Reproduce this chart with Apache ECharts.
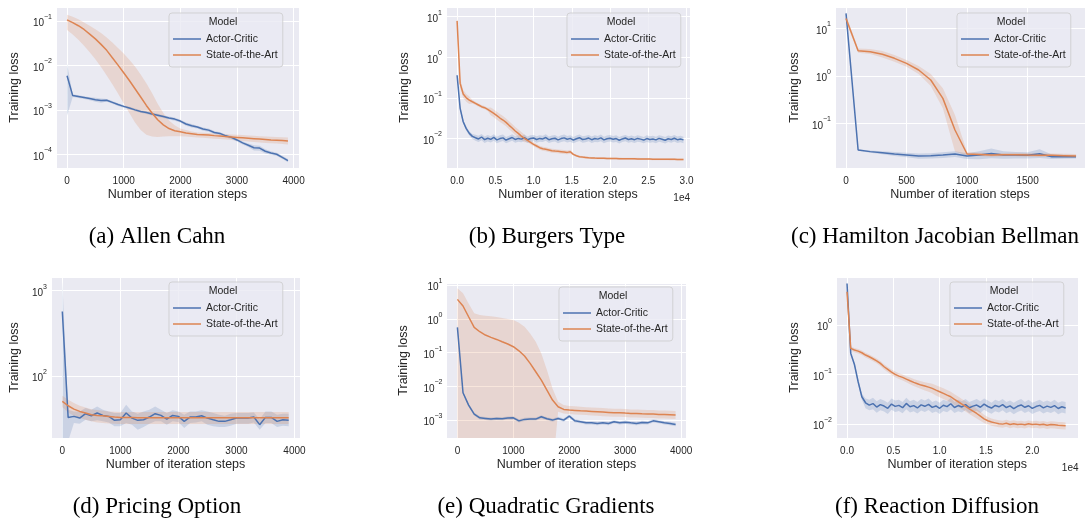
<!DOCTYPE html>
<html>
<head>
<meta charset="utf-8">
<script src="https://cdn.jsdelivr.net/npm/echarts@6/dist/echarts.min.js"></script>
<style>
  html, body { margin: 0; padding: 0; background: #fff; }
  #chart { width: 1091px; height: 520px; }
</style>
</head>
<body>
<div id="chart"></div>
<script>
// x positions (iteration steps) for each panel
function steps(start, step, n) {
	var a = [];
	for (var i = 0; i < n; i++) a.push(start + i * step);
	return a;
}
var seriesNames = ['Actor-Critic', 'State-of-the-Art'];

// (a) Allen Cahn
var allenX = steps(0, 100, 40);
var allenAcMean = [5.9e-3,2.1e-3,2.0e-3,1.9e-3,1.8e-3,1.7e-3,1.63e-3,1.65e-3,1.48e-3,1.32e-3,1.2e-3,1.1e-3,1.0e-3,9.2e-4,8.7e-4,8.1e-4,7.6e-4,7.1e-4,6.6e-4,6.2e-4,5.6e-4,4.8e-4,4.4e-4,4.1e-4,3.7e-4,3.5e-4,3.1e-4,2.95e-4,2.6e-4,2.4e-4,2.1e-4,1.8e-4,1.6e-4,1.4e-4,1.38e-4,1.17e-4,1.07e-4,1.0e-4,8.5e-5,7.2e-5];
var allenAcLo = [7.4e-4,1.95e-3,1.86e-3,1.77e-3,1.66e-3,1.52e-3,1.45e-3,1.55e-3,1.38e-3,1.23e-3,1.12e-3,1.03e-3,9.3e-4,8.6e-4,8.1e-4,7.5e-4,7.0e-4,6.6e-4,6.1e-4,5.7e-4,5.2e-4,4.4e-4,4.0e-4,3.8e-4,3.4e-4,3.2e-4,2.85e-4,2.75e-4,2.4e-4,2.2e-4,1.95e-4,1.65e-4,1.45e-4,1.22e-4,1.2e-4,1.04e-4,9.7e-5,9.2e-5,7.8e-5,6.6e-5];
var allenAcHi = [1.1e-2,2.25e-3,2.14e-3,2.03e-3,1.94e-3,1.88e-3,1.8e-3,1.75e-3,1.58e-3,1.41e-3,1.28e-3,1.18e-3,1.07e-3,9.8e-4,9.3e-4,8.7e-4,8.2e-4,7.6e-4,7.1e-4,6.7e-4,6.0e-4,5.2e-4,4.8e-4,4.4e-4,4.0e-4,3.8e-4,3.35e-4,3.15e-4,2.8e-4,2.6e-4,2.25e-4,1.95e-4,1.75e-4,1.6e-4,1.55e-4,1.3e-4,1.17e-4,1.08e-4,9.2e-5,7.8e-5];
var allenSotaMean = [0.107,0.093,0.079,0.065,0.051,0.040,0.030,0.022,0.015,0.0102,6.9e-3,4.6e-3,3.0e-3,1.95e-3,1.26e-3,8.5e-4,6.0e-4,4.6e-4,3.8e-4,3.4e-4,3.2e-4,3.0e-4,2.9e-4,2.8e-4,2.75e-4,2.7e-4,2.63e-4,2.57e-4,2.5e-4,2.45e-4,2.4e-4,2.35e-4,2.3e-4,2.25e-4,2.2e-4,2.15e-4,2.1e-4,2.08e-4,2.04e-4,2.0e-4];
var allenSotaLo = [0.063,0.05,0.038,0.028,0.02,0.0138,9.3e-3,6.0e-3,3.8e-3,2.35e-3,1.4e-3,8.5e-4,5.2e-4,3.5e-4,2.75e-4,2.5e-4,2.45e-4,2.5e-4,2.55e-4,2.55e-4,2.55e-4,2.5e-4,2.45e-4,2.4e-4,2.35e-4,2.3e-4,2.25e-4,2.2e-4,2.15e-4,2.1e-4,2.05e-4,2.0e-4,1.95e-4,1.9e-4,1.85e-4,1.8e-4,1.77e-4,1.74e-4,1.7e-4,1.66e-4];
var allenSotaHi = [0.14,0.126,0.11,0.093,0.079,0.066,0.054,0.043,0.033,0.025,0.0186,0.0135,9.5e-3,6.3e-3,4.0e-3,2.4e-3,1.38e-3,8.5e-4,5.8e-4,4.5e-4,3.8e-4,3.5e-4,3.25e-4,3.1e-4,3.05e-4,3.0e-4,2.95e-4,2.9e-4,2.85e-4,2.8e-4,2.75e-4,2.7e-4,2.65e-4,2.6e-4,2.55e-4,2.5e-4,2.47e-4,2.45e-4,2.42e-4,2.4e-4];

// (b) Burgers Type
var burgersX = steps(0, 400, 75);
var burgersAcMean = [0.36,0.055,0.0257,0.0174,0.0133,0.0112,0.0104,0.0097,0.0108,0.0093,0.0101,0.0095,0.0106,0.0092,0.0099,0.0103,0.0091,0.0098,0.0105,0.0094,0.01,0.0096,0.0104,0.0093,0.0099,0.0102,0.0094,0.01,0.0097,0.0105,0.0093,0.0098,0.0101,0.0092,0.0099,0.0103,0.0095,0.01,0.0091,0.0098,0.0104,0.0094,0.0097,0.0102,0.0093,0.0099,0.0096,0.0103,0.0092,0.0098,0.0101,0.0095,0.0099,0.009,0.0097,0.0102,0.0094,0.0098,0.0093,0.01,0.0096,0.0091,0.0099,0.0094,0.0097,0.0092,0.01,0.0095,0.009,0.0098,0.0094,0.0101,0.0093,0.0097,0.0092];
var burgersAcLo = [0.30,0.048,0.0228,0.0155,0.0117,0.0097,0.0087,0.0081,0.009,0.0077,0.0084,0.0079,0.0088,0.0076,0.0082,0.0086,0.0076,0.0081,0.0087,0.0078,0.0083,0.008,0.0086,0.0077,0.0082,0.0085,0.0078,0.0083,0.0081,0.0087,0.0077,0.0081,0.0084,0.0076,0.0082,0.0085,0.0079,0.0083,0.0076,0.0081,0.0086,0.0078,0.008,0.0085,0.0077,0.0082,0.008,0.0085,0.0076,0.0081,0.0084,0.0079,0.0082,0.0075,0.0081,0.0085,0.0078,0.0081,0.0077,0.0083,0.008,0.0076,0.0082,0.0078,0.008,0.0076,0.0083,0.0079,0.0075,0.0081,0.0078,0.0084,0.0077,0.008,0.0076];
var burgersAcHi = [0.42,0.063,0.029,0.0195,0.015,0.0128,0.0123,0.0116,0.0129,0.0112,0.0122,0.0113,0.0127,0.011,0.0119,0.0124,0.0109,0.0117,0.0126,0.0113,0.012,0.0115,0.0125,0.0111,0.0119,0.0122,0.0113,0.012,0.0116,0.0126,0.0112,0.0118,0.0121,0.011,0.0119,0.0124,0.0114,0.012,0.0109,0.0118,0.0125,0.0113,0.0116,0.0122,0.0112,0.0119,0.0115,0.0124,0.011,0.0118,0.0121,0.0114,0.0119,0.0108,0.0116,0.0122,0.0113,0.0118,0.0112,0.012,0.0115,0.0109,0.0119,0.0113,0.0116,0.011,0.012,0.0114,0.0108,0.0118,0.0113,0.0121,0.0112,0.0116,0.011];
var burgersSotaMean = [7.9,0.227,0.124,0.1,0.088,0.08,0.073,0.0665,0.0605,0.0572,0.052,0.0464,0.0414,0.0363,0.0318,0.0284,0.0248,0.021,0.018,0.0152,0.0133,0.0114,0.01,0.00895,0.00798,0.00713,0.00649,0.0059,0.00557,0.00537,0.00517,0.00498,0.00488,0.00479,0.0047,0.00461,0.00452,0.0047,0.00404,0.00374,0.00354,0.00346,0.0034,0.00333,0.0033,0.00327,0.00325,0.00323,0.00322,0.0032,0.0032,0.00319,0.00318,0.00317,0.00316,0.00316,0.00315,0.00314,0.00313,0.00312,0.0031,0.0031,0.00309,0.00309,0.00308,0.00308,0.00307,0.00306,0.00306,0.00305,0.00304,0.00304,0.00303,0.00303,0.00302];
var burgersSotaLo = [4.7,0.175,0.099,0.08,0.07,0.0727,0.0664,0.0605,0.055,0.052,0.0473,0.0371,0.0331,0.029,0.0254,0.0227,0.0198,0.0168,0.0144,0.0122,0.0106,0.0091,0.008,0.008,0.00713,0.00637,0.0058,0.00527,0.00497,0.00479,0.00462,0.00445,0.00436,0.00428,0.0042,0.00412,0.00404,0.0042,0.00381,0.00353,0.00334,0.00326,0.00321,0.00314,0.00311,0.00308,0.00307,0.00305,0.00304,0.00302,0.00302,0.00301,0.003,0.00299,0.00298,0.00298,0.00297,0.00296,0.00295,0.00294,0.00292,0.00292,0.00292,0.00292,0.00291,0.00291,0.0029,0.00289,0.00289,0.00288,0.00287,0.00287,0.00286,0.00286,0.00285];
var burgersSotaHi = [11,0.295,0.155,0.125,0.108,0.088,0.08,0.073,0.0666,0.063,0.0572,0.058,0.0518,0.0454,0.0398,0.0355,0.031,0.0263,0.0225,0.019,0.0166,0.0143,0.0125,0.01,0.00894,0.00799,0.00727,0.00661,0.00624,0.00601,0.00579,0.00558,0.00547,0.00536,0.00526,0.00516,0.00506,0.00526,0.00428,0.00396,0.00375,0.00367,0.0036,0.00353,0.0035,0.00347,0.00345,0.00342,0.00341,0.00339,0.00339,0.00338,0.00337,0.00336,0.00335,0.00335,0.00334,0.00333,0.00332,0.00331,0.00329,0.00329,0.00328,0.00328,0.00326,0.00326,0.00325,0.00324,0.00324,0.00323,0.00322,0.00322,0.00321,0.00321,0.0032];

// (c) Hamilton Jacobian Bellman
var hjbX = steps(0, 100, 20);
var hjbAcMean = [20.7,0.0275,0.0254,0.0241,0.0226,0.0215,0.0205,0.0208,0.0215,0.0226,0.0205,0.0215,0.0233,0.0215,0.0215,0.0212,0.023,0.0199,0.0199,0.0199];
var hjbAcLo = [18.5,0.0265,0.024,0.0224,0.0206,0.0193,0.018,0.0182,0.0187,0.0196,0.0178,0.0175,0.0185,0.018,0.0183,0.0182,0.0186,0.0178,0.018,0.0183];
var hjbAcHi = [22.5,0.0285,0.0268,0.026,0.0248,0.024,0.0232,0.0235,0.0245,0.0258,0.0235,0.026,0.0295,0.026,0.025,0.0245,0.0285,0.022,0.0218,0.0215];
var hjbSotaMean = [16.2,3.39,3.23,2.84,2.34,1.83,1.33,0.817,0.336,0.0724,0.0226,0.0222,0.0215,0.0219,0.0219,0.0215,0.0212,0.0212,0.0209,0.0205];
var hjbSotaLo = [13.8,3.08,2.88,2.45,1.99,1.56,1.09,0.611,0.207,0.0254,0.0208,0.0205,0.0199,0.0202,0.0202,0.0199,0.0196,0.0196,0.0193,0.019];
var hjbSotaHi = [19.1,3.79,3.67,3.33,2.75,2.15,1.61,1.09,0.546,0.15,0.0245,0.0241,0.0237,0.0237,0.0241,0.0237,0.0233,0.0233,0.023,0.0226];

// (d) Pricing Option
var pricingX = steps(0, 100, 40);
var pricingAcMean = [568,32.5,33.4,31.9,35.9,34.0,36.6,34.3,33.4,30.0,30.5,36.6,31.9,30.0,30.5,32.8,35.9,34.3,31.0,34.3,33.4,29.2,32.8,32.8,34.0,31.9,30.5,29.2,29.2,30.5,31.9,31.9,31.9,32.8,26.7,32.5,32.5,29.2,30.5,30.0];
var pricingAcLo = [1,17,27.9,27.4,30.5,29.2,30.0,29.2,28.4,25.5,25.5,27.9,26.7,23.3,25.0,27.4,29.2,29.2,26.7,29.2,28.6,24.4,27.9,28.4,29.2,26.7,25.5,25.0,25.0,26.0,27.4,27.4,27.4,28.4,23.3,27.9,27.9,25.0,26.0,25.5];
var pricingAcHi = [1275,40.0,38.2,38.2,41.8,40.0,43.7,40.0,38.2,36.6,36.6,45.7,38.2,35.9,38.2,40.0,43.7,40.0,36.6,39.3,38.2,34.9,38.2,38.2,39.3,38.2,36.6,34.9,34.0,35.9,36.6,36.6,36.6,37.2,31.0,38.2,38.2,34.9,35.9,35.9];
var pricingSotaMean = [50.0,44.5,40.6,38.2,36.6,34.9,34.3,34.0,33.4,32.8,32.5,32.5,32.5,32.2,32.2,32.2,32.2,32.2,32.2,32.2,32.2,32.2,32.2,32.2,32.2,32.2,32.2,32.2,32.2,32.2,32.2,32.2,32.2,32.2,32.2,32.2,32.2,32.2,32.2,32.2];
var pricingSotaLo = [42.9,37.2,34.0,31.9,30.5,29.2,28.4,27.9,27.6,27.4,27.2,27.2,27.2,27.2,27.2,27.2,27.2,27.2,27.2,27.2,27.2,27.2,27.2,27.2,27.2,27.2,27.2,27.2,27.2,27.2,27.2,27.2,27.2,27.2,27.2,27.2,27.2,27.2,27.2,27.2];
var pricingSotaHi = [58.3,52.4,47.9,44.5,42.5,40.6,39.6,38.9,38.2,37.9,37.5,37.5,37.5,37.5,37.5,37.5,37.5,37.5,37.5,37.5,37.5,37.5,37.5,37.5,37.5,37.5,37.5,37.5,37.5,37.5,37.5,37.5,37.5,37.5,37.5,37.5,37.5,37.5,37.5,37.5];

// (e) Quadratic Gradients
var quadX = steps(0, 100, 40);
var quadAcMean = [0.557,6.46e-3,2.78e-3,1.51e-3,1.17e-3,1.12e-3,1.07e-3,1.12e-3,1.1e-3,1.15e-3,1.17e-3,9.5e-4,1.05e-3,1.07e-3,1.07e-3,1.26e-3,1.1e-3,1.0e-3,1.12e-3,1.0e-3,1.31e-3,9.5e-4,8.9e-4,8.3e-4,8.3e-4,7.96e-4,8.3e-4,7.96e-4,8.9e-4,8.3e-4,8.7e-4,8.3e-4,7.96e-4,8.5e-4,8.3e-4,9.5e-4,8.9e-4,8.3e-4,7.96e-4,7.4e-4];
var quadAcLo = [0.44,5.8e-3,2.5e-3,1.36e-3,1.05e-3,1.0e-3,9.6e-4,1.0e-3,9.9e-4,1.03e-3,1.05e-3,8.5e-4,9.4e-4,9.6e-4,9.6e-4,1.12e-3,9.9e-4,9.0e-4,1.0e-3,9.0e-4,1.17e-3,8.5e-4,8.0e-4,7.4e-4,7.4e-4,7.1e-4,7.4e-4,7.1e-4,8.0e-4,7.4e-4,7.8e-4,7.4e-4,7.1e-4,7.6e-4,7.4e-4,8.5e-4,8.0e-4,7.4e-4,7.1e-4,6.6e-4];
var quadAcHi = [0.7,7.2e-3,3.1e-3,1.68e-3,1.3e-3,1.24e-3,1.19e-3,1.24e-3,1.22e-3,1.28e-3,1.3e-3,1.06e-3,1.17e-3,1.19e-3,1.19e-3,1.4e-3,1.22e-3,1.11e-3,1.25e-3,1.11e-3,1.46e-3,1.06e-3,9.9e-4,9.3e-4,9.3e-4,8.9e-4,9.3e-4,8.9e-4,9.9e-4,9.3e-4,9.7e-4,9.3e-4,8.9e-4,9.5e-4,9.3e-4,1.06e-3,9.9e-4,9.3e-4,8.9e-4,8.3e-4];
var quadSotaMean = [3.76,2.39,1.15,0.557,0.414,0.33,0.281,0.245,0.209,0.179,0.149,0.113,0.0787,0.0477,0.027,0.0153,7.74e-3,3.92e-3,2.48e-3,2.07e-3,1.98e-3,1.94e-3,1.89e-3,1.85e-3,1.81e-3,1.77e-3,1.73e-3,1.69e-3,1.65e-3,1.65e-3,1.61e-3,1.58e-3,1.58e-3,1.54e-3,1.51e-3,1.51e-3,1.47e-3,1.47e-3,1.44e-3,1.41e-3];
var quadSotaLo = [1e-6,1e-6,1e-6,1e-6,1e-6,1e-6,1e-6,1e-6,1e-6,1e-6,1e-6,1e-6,1e-6,1e-6,1e-6,1e-6,1e-6,3e-5,1.77e-3,1.58e-3,1.51e-3,1.47e-3,1.44e-3,1.41e-3,1.37e-3,1.34e-3,1.31e-3,1.28e-3,1.26e-3,1.26e-3,1.23e-3,1.2e-3,1.2e-3,1.17e-3,1.15e-3,1.15e-3,1.12e-3,1.12e-3,1.1e-3,1.07e-3];
var quadSotaHi = [7.96,5.66,2.86,1.45,1.29,1.23,1.18,1.13,1.05,0.98,0.918,0.766,0.582,0.37,0.209,0.0944,0.0303,8.67e-3,3.49e-3,2.78e-3,2.6e-3,2.55e-3,2.48e-3,2.42e-3,2.37e-3,2.32e-3,2.27e-3,2.22e-3,2.17e-3,2.17e-3,2.12e-3,2.07e-3,2.07e-3,2.02e-3,1.98e-3,1.98e-3,1.94e-3,1.94e-3,1.89e-3,1.85e-3];

// (f) Reaction Diffusion
var reactX = steps(0, 400, 60);
var reactAcMean = [6.9,0.268,0.16,0.0717,0.0357,0.027,0.0242,0.026,0.0221,0.0248,0.0232,0.0209,0.0254,0.0228,0.0239,0.0215,0.0262,0.0224,0.0236,0.0212,0.0245,0.0229,0.0251,0.0218,0.0233,0.0209,0.0241,0.0226,0.0258,0.0217,0.0237,0.0222,0.0249,0.0214,0.0231,0.0243,0.0219,0.0253,0.0227,0.0211,0.0238,0.0224,0.0247,0.0216,0.0233,0.0205,0.0229,0.0244,0.0219,0.0235,0.0208,0.0226,0.0239,0.0213,0.0231,0.0218,0.0236,0.0207,0.0224,0.0212];
var reactAcLo = [6.2,0.24,0.145,0.064,0.031,0.021,0.019,0.02,0.017,0.019,0.018,0.016,0.0195,0.0175,0.0184,0.0165,0.02,0.0172,0.0182,0.0163,0.0188,0.0176,0.0193,0.0168,0.0179,0.0161,0.0185,0.0174,0.0198,0.0167,0.0182,0.0171,0.0192,0.0165,0.0178,0.0187,0.0168,0.0195,0.0175,0.0162,0.0183,0.0172,0.019,0.0166,0.0179,0.0158,0.0176,0.0188,0.0168,0.0181,0.016,0.0174,0.0184,0.0164,0.0178,0.0168,0.0182,0.0159,0.0172,0.0163];
var reactAcHi = [7.6,0.3,0.18,0.08,0.041,0.033,0.031,0.034,0.029,0.032,0.030,0.027,0.033,0.030,0.031,0.028,0.034,0.029,0.031,0.028,0.032,0.030,0.033,0.028,0.030,0.027,0.031,0.029,0.034,0.028,0.031,0.029,0.032,0.028,0.030,0.032,0.029,0.033,0.030,0.027,0.031,0.029,0.032,0.028,0.030,0.027,0.030,0.032,0.028,0.031,0.027,0.029,0.031,0.028,0.030,0.028,0.031,0.027,0.029,0.028];
var reactSotaMean = [4.7,0.338,0.313,0.298,0.276,0.248,0.229,0.209,0.19,0.168,0.144,0.127,0.112,0.101,0.0933,0.0877,0.0811,0.075,0.0695,0.0653,0.0614,0.0586,0.0559,0.0526,0.0486,0.045,0.0417,0.0385,0.0357,0.0315,0.0283,0.0254,0.0228,0.0204,0.0183,0.0164,0.0145,0.0128,0.0117,0.011,0.0106,0.0102,0.01,0.0104,0.0098,0.0102,0.0098,0.01,0.0097,0.0102,0.0098,0.01,0.0097,0.0099,0.0095,0.0098,0.0097,0.0095,0.0094,0.0093];
var reactSotaLo = [4.1,0.305,0.283,0.268,0.248,0.222,0.204,0.186,0.169,0.149,0.127,0.112,0.098,0.088,0.081,0.076,0.07,0.064,0.059,0.055,0.051,0.048,0.045,0.042,0.038,0.035,0.032,0.0295,0.0275,0.0244,0.0221,0.0199,0.0179,0.016,0.0145,0.013,0.0117,0.0106,0.0098,0.0093,0.009,0.0087,0.0085,0.0089,0.0083,0.0087,0.0083,0.0085,0.0082,0.0087,0.0083,0.0085,0.0082,0.0084,0.008,0.0083,0.0082,0.008,0.0079,0.0078];
var reactSotaHi = [5.3,0.37,0.345,0.33,0.305,0.275,0.255,0.232,0.212,0.188,0.162,0.143,0.127,0.115,0.106,0.1,0.093,0.087,0.081,0.077,0.073,0.07,0.068,0.065,0.061,0.057,0.053,0.049,0.045,0.04,0.036,0.032,0.0288,0.0258,0.023,0.0205,0.0178,0.0155,0.014,0.013,0.0124,0.012,0.0117,0.0122,0.0115,0.012,0.0114,0.0117,0.0113,0.0119,0.0114,0.0117,0.0113,0.0116,0.0111,0.0114,0.0113,0.0111,0.011,0.0108];

// layout of the six panels (pixels, axis ranges as log10 exponents for y)
var panels = [
	{ x: allenX, ac: [allenAcMean, allenAcLo, allenAcHi], sota: [allenSotaMean, allenSotaLo, allenSotaHi],
	  grid: { left: 56, top: 7, width: 243, height: 161 }, xr: [-195, 4095], yr: [-4.31, -0.68], split: 4, sci: false,
	  yGap: 35, legend: [169, 13], caption: ['(a) Allen Cahn', 157, 237] },
	{ x: burgersX, ac: [burgersAcMean, burgersAcLo, burgersAcHi], sota: [burgersSotaMean, burgersSotaLo, burgersSotaHi],
	  grid: { left: 446, top: 7, width: 244, height: 161 }, xr: [-1450, 30450], yr: [-2.73, 1.24], split: 6, sci: true,
	  yGap: 35, legend: [567, 13], caption: ['(b) Burgers Type', 547, 237] },
	{ x: hjbX, ac: [hjbAcMean, hjbAcLo, hjbAcHi], sota: [hjbSotaMean, hjbSotaLo, hjbSotaHi],
	  grid: { left: 835, top: 7, width: 250, height: 161 }, xr: [-91, 1974], yr: [-1.94, 1.45], split: 4, sci: false,
	  yGap: 34, legend: [957, 13], caption: ['(c) Hamilton Jacobian Bellman', 935, 237] },
	{ x: pricingX, ac: [pricingAcMean, pricingAcLo, pricingAcHi], sota: [pricingSotaMean, pricingSotaLo, pricingSotaHi],
	  grid: { left: 51, top: 277, width: 249, height: 161 }, xr: [-195, 4095], yr: [1.27, 3.16], split: 4, sci: false,
	  yGap: 30, legend: [169, 282], caption: ['(d) Pricing Option', 157, 507] },
	{ x: quadX, ac: [quadAcMean, quadAcLo, quadAcHi], sota: [quadSotaMean, quadSotaLo, quadSotaHi],
	  grid: { left: 446.5, top: 283, width: 240, height: 155 }, xr: [-195, 4095], yr: [-3.53, 1.06], split: 4, sci: false,
	  yGap: 36, legend: [559, 287], caption: ['(e) Quadratic Gradients', 546, 507] },
	{ x: reactX, ac: [reactAcMean, reactAcLo, reactAcHi], sota: [reactSotaMean, reactSotaLo, reactSotaHi],
	  grid: { left: 836, top: 277, width: 242.5, height: 161 }, xr: [-1190, 24990], yr: [-2.28, 0.97], split: 5, sci: true,
	  yGap: 35, legend: [950, 282], caption: ['(f) Reaction Diffusion', 937, 507] }
];

var AC_COLOR = '#4c72b0';
var SOTA_COLOR = '#dd8452';
var AC_BAND = 'rgba(76,114,176,0.2)';
var SOTA_BAND = 'rgba(221,132,82,0.2)';
var TEXT = '#262626';
var FONT = '"Liberation Sans", Arial, sans-serif';

function pairs(xs, ys) {
	return xs.map(function(x, k) { return [x, ys[k]]; });
}

// confidence band: one polygon through the hi points and back along the lo points
function band(i, xs, lo, hi, color) {
	return {
		type: 'custom', name: 'band', xAxisIndex: i, yAxisIndex: i, silent: true,
		data: xs.map(function(x, k) { return [x, lo[k], hi[k]]; }),
		encode: { x: 0, y: [1, 2] },
		renderItem: function(params, api) {
			if (params.dataIndexInside !== 0) return null;
			var n = params.dataInsideLength, top = [], bottom = [];
			for (var k = 0; k < n; k++) {
				var x = api.value(0, k);
				top.push(api.coord([x, api.value(2, k)]));
				bottom.push(api.coord([x, api.value(1, k)]));
			}
			var cs = params.coordSys;
			return {
				type: 'polygon',
				shape: { points: top.concat(bottom.reverse()) },
				style: { fill: color },
				clipPath: { type: 'rect', shape: { x: cs.x, y: cs.y, width: cs.width, height: cs.height } }
			};
		}
	};
}

function supLabel(v) {
	var e = Math.round(Math.log10(v));
	return '{b|10}{s|' + (e < 0 ? '\u2212' + (-e) : e) + '}';
}

var grids = [], xAxes = [], yAxes = [], series = [], legends = [], graphics = [];

panels.forEach(function(p, i) {
	grids.push({ left: p.grid.left, top: p.grid.top, width: p.grid.width, height: p.grid.height,
		show: true, backgroundColor: '#eaeaf2', borderWidth: 0, containLabel: false });
	xAxes.push({
		type: 'value', gridIndex: i, min: p.xr[0], max: p.xr[1], splitNumber: p.split,
		axisLine: { show: false }, axisTick: { show: false },
		axisLabel: { color: TEXT, fontSize: 10, fontFamily: FONT, margin: 8, showMinLabel: false, showMaxLabel: false,
			formatter: p.sci ? function(v) { return (v / 10000).toFixed(1); } : function(v) { return String(v); } },
		splitLine: { show: true, lineStyle: { color: '#ffffff', width: 1 } },
		name: 'Number of iteration steps', nameLocation: 'middle', nameGap: 20,
		nameTextStyle: { color: TEXT, fontSize: 12.5, fontFamily: FONT }
	});
	yAxes.push({
		type: 'log', logBase: 10, gridIndex: i, min: Math.pow(10, p.yr[0]), max: Math.pow(10, p.yr[1]),
		axisLine: { show: false }, axisTick: { show: false },
		axisLabel: { margin: 4, showMinLabel: false, showMaxLabel: false, formatter: supLabel,
			rich: {
				b: { color: TEXT, fontSize: 10, fontFamily: FONT, verticalAlign: 'bottom', lineHeight: 15 },
				s: { color: TEXT, fontSize: 7, fontFamily: FONT, verticalAlign: 'top', lineHeight: 15 }
			} },
		splitLine: { show: true, lineStyle: { color: '#ffffff', width: 1 } },
		minorSplitLine: { show: false },
		name: 'Training loss', nameLocation: 'middle', nameGap: p.yGap, nameRotate: 90,
		nameTextStyle: { color: TEXT, fontSize: 12.5, fontFamily: FONT }
	});

	series.push(band(i, p.x, p.ac[1], p.ac[2], AC_BAND));
	series.push({ type: 'line', name: seriesNames[0], xAxisIndex: i, yAxisIndex: i, data: pairs(p.x, p.ac[0]),
		symbol: 'none', lineStyle: { color: AC_COLOR, width: 1.5 }, itemStyle: { color: AC_COLOR } });
	series.push(band(i, p.x, p.sota[1], p.sota[2], SOTA_BAND));
	series.push({ type: 'line', name: seriesNames[1], xAxisIndex: i, yAxisIndex: i, data: pairs(p.x, p.sota[0]),
		symbol: 'none', lineStyle: { color: SOTA_COLOR, width: 1.5 }, itemStyle: { color: SOTA_COLOR } });

	legends.push({
		data: seriesNames, orient: 'vertical', left: p.legend[0], top: p.legend[1],
		icon: 'rect', itemWidth: 28, itemHeight: 1.5, itemGap: 4,
		padding: [20, 5, 6, 4],
		backgroundColor: 'rgba(234,234,242,0.8)', borderColor: 'rgba(204,204,204,0.8)', borderWidth: 1, borderRadius: 3,
		textStyle: { color: TEXT, fontSize: 10.5, fontFamily: FONT, lineHeight: 12 },
		selectedMode: false
	});
	graphics.push({ type: 'text', x: p.legend[0] + 54, y: p.legend[1] + 9, z: 100,
		style: { text: 'Model', fill: TEXT, fontSize: 10.5, fontFamily: FONT, align: 'center', verticalAlign: 'middle' } });
	graphics.push({ type: 'text', x: p.caption[1], y: p.caption[2],
		style: { text: p.caption[0], fill: '#000', fontSize: 23, fontFamily: '"Liberation Serif", "Times New Roman", serif',
			align: 'center', verticalAlign: 'middle' } });
	if (p.sci) {
		graphics.push({ type: 'text', x: p.grid.left + p.grid.width, y: p.grid.top + p.grid.height + 30,
			style: { text: '1e4', fill: TEXT, fontSize: 10, fontFamily: FONT, align: 'right', verticalAlign: 'middle' } });
	}
});

var myChart = echarts.init(document.getElementById('chart'), null, { renderer: 'canvas' });
myChart.setOption({
	animation: false,
	backgroundColor: '#ffffff',
	grid: grids,
	xAxis: xAxes,
	yAxis: yAxes,
	legend: legends,
	series: series,
	graphic: graphics
});
</script>
</body>
</html>
